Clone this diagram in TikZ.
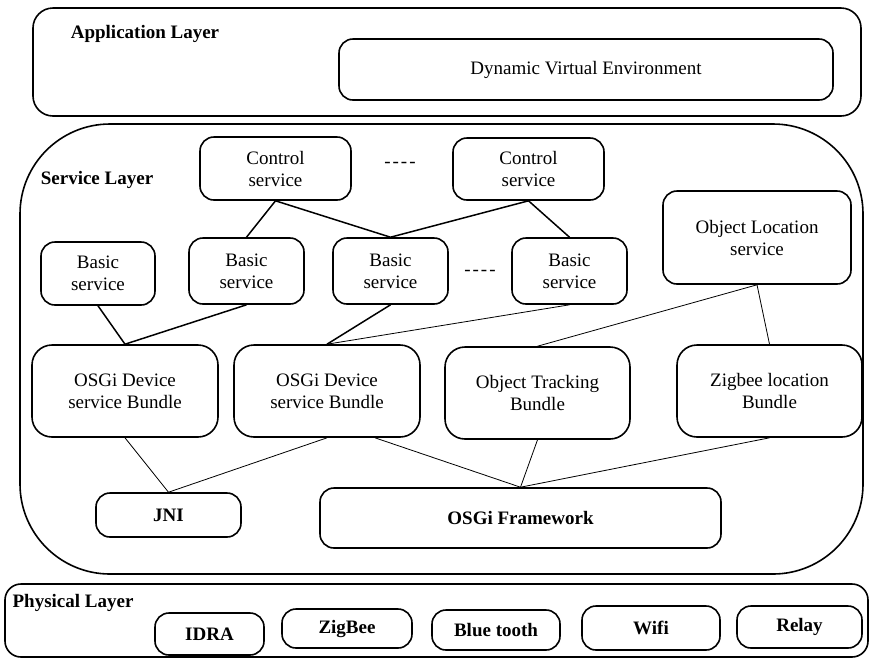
\documentclass[tikz,border=0pt]{standalone}
\usepackage{fontspec}
\setmainfont{Liberation Serif}

\begin{document}
\begin{tikzpicture}[x=0.5pt,y=-0.5pt,
  txt/.style={font=\fontsize{9.5}{11}\selectfont},
  box/.style={txt,draw,line width=0.8pt,rounded corners=7pt,inner sep=0pt,align=center},
  bundle/.style={box,rounded corners=10pt},
  hwbox/.style={box,font=\fontsize{9.5}{11}\selectfont\bfseries},
  layer/.style={draw,line width=0.8pt,inner sep=0pt},
  title/.style={font=\fontsize{9.5}{11}\selectfont\bfseries},
  link/.style={line width=0.4pt},
  thicklink/.style={line width=0.75pt}]
\useasboundingbox (0,0) rectangle (871,660);

% application layer
\node[layer,rounded corners=10pt,minimum width=414pt,minimum height=54pt] (app) at (447,62) {};
\node[title] (apptitle) at (145,34) {Application Layer};
\node[box,minimum width=247pt,minimum height=30.5pt] (dve) at (586,69.5) {Dynamic Virtual Environment};

% service layer
\node[layer,rounded corners=45pt,minimum width=421.5pt,minimum height=225pt] (svc) at (441.5,349) {};
\node[title] (svctitle) at (97,180) {Service Layer};

\node[box,minimum width=75.5pt,minimum height=31.5pt] (ctl1) at (275.5,168.5) {Control\\service};
\node[txt] (gap1) at (400,165) {-\kern1pt-\kern1pt-\kern1pt-};
\node[box,minimum width=75.5pt,minimum height=31pt] (ctl2) at (528.5,169) {Control\\service};

\node[box,minimum width=57pt,minimum height=31.5pt] (bas1) at (98,273.5) {Basic\\service};
\node[box,minimum width=57.5pt,minimum height=33pt] (bas2) at (246.5,271) {Basic\\service};
\node[box,minimum width=57.5pt,minimum height=33pt] (bas3) at (390.5,271) {Basic\\service};
\node[txt] (gap2) at (480,273) {-\kern1pt-\kern1pt-\kern1pt-};
\node[box,minimum width=57.5pt,minimum height=33pt] (bas4) at (569.5,271) {Basic\\service};
\node[box,minimum width=94pt,minimum height=46.5pt] (objloc) at (757,237.5) {Object Location\\service};

\node[bundle,minimum width=93pt,minimum height=46pt] (osgi1) at (125,391) {OSGi Device\\service Bundle};
\node[bundle,minimum width=93pt,minimum height=46pt] (osgi2) at (327,391) {OSGi Device\\service Bundle};
\node[bundle,minimum width=92.5pt,minimum height=46pt] (track) at (537.5,393) {Object Tracking\\Bundle};
\node[bundle,minimum width=92.5pt,minimum height=46pt] (zig) at (769.5,391) {Zigbee location\\Bundle};

\node[hwbox,minimum width=72.5pt,minimum height=22pt] (jni) at (168.5,515) {JNI};
\node[hwbox,minimum width=200.5pt,minimum height=30pt] (fw) at (520.5,518) {OSGi Framework};

% links between the services
\draw[thicklink] (ctl1.south) -- (bas2.north);
\draw[thicklink] (ctl1.south) -- (bas3.north);
\draw[thicklink] (ctl2.south) -- (bas3.north);
\draw[thicklink] (ctl2.south) -- (bas4.north);
\draw[thicklink] (bas1.south) -- (osgi1.north);
\draw[thicklink] (bas2.south) -- (osgi1.north);
\draw[thicklink] (bas3.south) -- (osgi2.north);
\draw[link] (bas4.south) -- (osgi2.north);
\draw[link] (objloc.south) -- (track.north);
\draw[link] (objloc.south) -- (zig.north);
\draw[link] (osgi1.south) -- (jni.north);
\draw[link] (osgi2.south) -- (jni.north);
\draw[link] ([xshift=24pt]osgi2.south) -- (fw.north);
\draw[link] (track.south) -- (fw.north);
\draw[link] (zig.south) -- (fw.north);

% physical layer
\node[layer,rounded corners=8pt,minimum width=431.5pt,minimum height=36.5pt] (phy) at (436.5,620.5) {};
\node[title] (phytitle) at (73,603) {Physical Layer};
\node[hwbox,minimum width=54.5pt,minimum height=21pt] (idra) at (209.5,634) {IDRA};
\node[hwbox,minimum width=65pt,minimum height=19.5pt] (zb) at (347,628.5) {ZigBee};
\node[hwbox,minimum width=64pt,minimum height=20pt] (bt) at (496,630) {Blue tooth};
\node[hwbox,minimum width=69pt,minimum height=22pt] (wifi) at (651,628) {Wifi};
\node[hwbox,minimum width=62.5pt,minimum height=21pt] (relay) at (799.5,627) {Relay};
\end{tikzpicture}
\end{document}
